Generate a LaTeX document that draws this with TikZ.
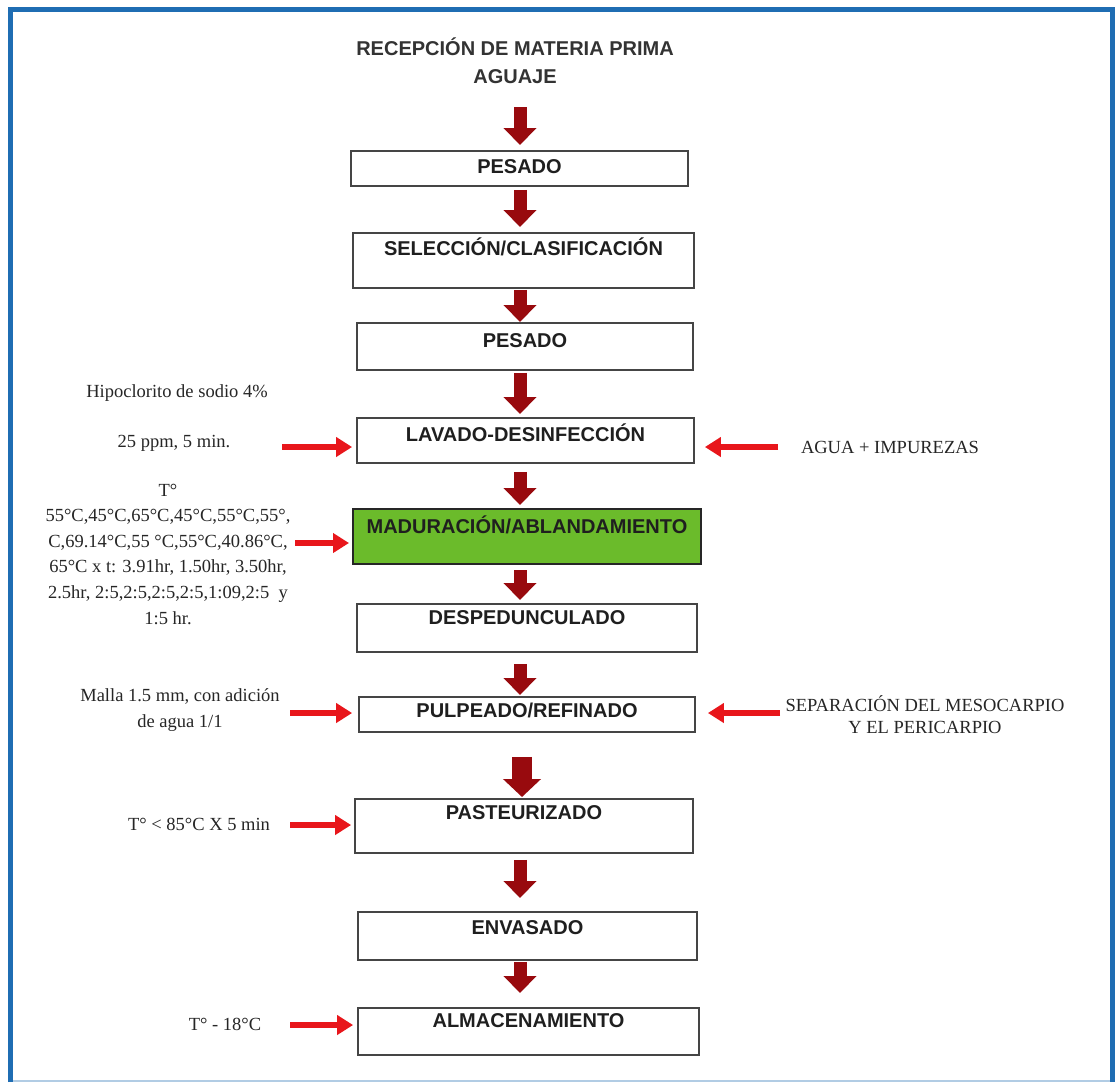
\documentclass[tikz,border=0pt]{standalone}
\usepackage{fontspec}
\setmainfont{Liberation Serif}
\newfontfamily\arialf{Liberation Sans}
\usetikzlibrary{arrows.meta}
\definecolor{frameblue}{HTML}{1F6DB3}
\definecolor{darrc}{HTML}{980A0E}
\definecolor{rarrc}{HTML}{E8161B}
\definecolor{greenf}{HTML}{6BBB2B}
\definecolor{boxgray}{HTML}{454545}
\begin{document}
\begin{tikzpicture}[x=1pt,y=-1pt,
  proc/.style 2 args={draw=boxgray, line width=1.8pt, anchor=north, inner xsep=0pt, inner ysep=0pt,
    text height=#1pt, text depth=#2pt, font=\arialf\bfseries\fontsize{20}{24}\selectfont, text=black!88},
  lbl/.style={align=center, inner sep=0pt, font=\fontsize{18.5}{25.6}\selectfont, text=black!85},
  darr/.style={draw=darrc, line width=13pt, -{Triangle[width=32pt,length=17pt]}},
  darrb/.style={draw=darrc, line width=20pt, -{Triangle[width=37pt,length=18pt]}},
  rarr/.style={draw=rarrc, line width=6.5pt, -{Triangle[width=19pt,length=16pt]}}
]
\useasboundingbox (0,0) rectangle (1115,1082);
\fill[white] (0,0) rectangle (1115,1082);
% frame
\draw[frameblue!35, line width=1.5pt] (10,1081) -- (1112,1081);
\draw[frameblue, line width=5pt] (10,1082) -- (10,9) -- (1112,9) -- (1112,1082);

% title
\node[align=center, inner sep=0pt, font=\arialf\bfseries\fontsize{20}{28}\selectfont, text=black!80] (title) at (515,61)
  {RECEPCIÓN DE MATERIA PRIMA\\AGUAJE};

% boxes
\node[proc={23}{12}, minimum width=337pt] (b1) at (519.5,150) {PESADO};
\node[proc={23}{32}, minimum width=341pt] (b2) at (523.5,232) {SELECCIÓN/CLASIFICACIÓN};
\node[proc={25}{22}, minimum width=336pt] (b3) at (525,322) {PESADO};
\node[proc={24}{21}, minimum width=337pt] (b4) at (525.5,417) {LAVADO-DESINFECCIÓN};
\node[proc={24}{31}, minimum width=348pt, fill=greenf, draw=black!85, line width=2pt] (b5) at (527,508) {MADURACIÓN/ABLANDAMIENTO};
\node[proc={21}{27}, minimum width=340pt] (b6) at (527,603) {DESPEDUNCULADO};
\node[proc={21}{14}, minimum width=336pt] (b7) at (527,696) {PULPEADO/REFINADO};
\node[proc={21}{33}, minimum width=338pt] (b8) at (524,798) {PASTEURIZADO};
\node[proc={23}{25}, minimum width=339pt] (b9) at (527.5,911) {ENVASADO};
\node[proc={20}{27}, minimum width=341pt] (b10) at (528.5,1007) {ALMACENAMIENTO};

% down arrows
\coordinate (col) at (520,0);
\coordinate (colb) at (522,0);
\coordinate (a0) at (520,107);
\draw[darr, shorten >=5pt] (a0) -- (b1.north -| col);
\draw[darr, shorten <=3pt, shorten >=5pt] (b1.south -| col) -- (b2.north -| col);
\draw[darr, shorten <=1pt, shorten >=0pt] (b2.south -| col) -- (b3.north -| col);
\draw[darr, shorten <=2pt, shorten >=3pt] (b3.south -| col) -- (b4.north -| col);
\draw[darr, shorten <=8pt, shorten >=3pt] (b4.south -| col) -- (b5.north -| col);
\draw[darr, shorten <=5pt, shorten >=3pt] (b5.south -| col) -- (b6.north -| col);
\draw[darr, shorten <=11pt, shorten >=1pt] (b6.south -| col) -- (b7.north -| col);
\draw[darrb, shorten <=24pt, shorten >=1pt] (b7.south -| colb) -- (b8.north -| colb);
\draw[darr, shorten <=6pt, shorten >=13pt] (b8.south -| col) -- (b9.north -| col);
\draw[darr, shorten <=1pt, shorten >=14pt] (b9.south -| col) -- (b10.north -| col);

% side labels
\node[lbl] (hipo) at (177,393) {Hipoclorito de sodio 4\%};
\node[lbl] (ppm) at (174,443) {25 ppm, 5 min.};
\node[lbl] (temp) at (168,554) {T°\\55°C,45°C,65°C,45°C,55°C,55°,\\C,69.14°C,55 °C,55°C,40.86°C,\\65°C x t: 3.91hr, 1.50hr, 3.50hr,\\2.5hr, 2:5,2:5,2:5,2:5,1:09,2:5~ y\\1:5 hr.};
\node[lbl] (malla) at (180,710) {Malla 1.5 mm, con adición\\de agua 1/1};
\node[lbl] (past) at (199,824) {T° < 85°C X 5 min};
\node[lbl] (alm) at (225,1024) {T° - 18°C};
\node[lbl] (agua) at (890,447) {AGUA + IMPUREZAS};
\node[lbl, font=\fontsize{18.5}{22}\selectfont] (sep) at (925,715) {SEPARACIÓN DEL MESOCARPIO\\Y EL PERICARPIO};

% side arrows
\coordinate (t4l) at (282,447);
\coordinate (t4r) at (778,447);
\coordinate (t5l) at (295,543);
\coordinate (t7l) at (290,713);
\coordinate (t7r) at (780,713);
\coordinate (t8l) at (290,825);
\coordinate (t10l) at (290,1025);
\draw[rarr, shorten >=4pt] (t4l) -- (b4.west |- t4l);
\draw[rarr, shorten >=10pt] (t4r) -- (b4.east |- t4r);
\draw[rarr, shorten >=3pt] (t5l) -- (b5.west |- t5l);
\draw[rarr, shorten >=6pt] (t7l) -- (b7.west |- t7l);
\draw[rarr, shorten >=12pt] (t7r) -- (b7.east |- t7r);
\draw[rarr, shorten >=3pt] (t8l) -- (b8.west |- t8l);
\draw[rarr, shorten >=4pt] (t10l) -- (b10.west |- t10l);
\end{tikzpicture}
\end{document}
